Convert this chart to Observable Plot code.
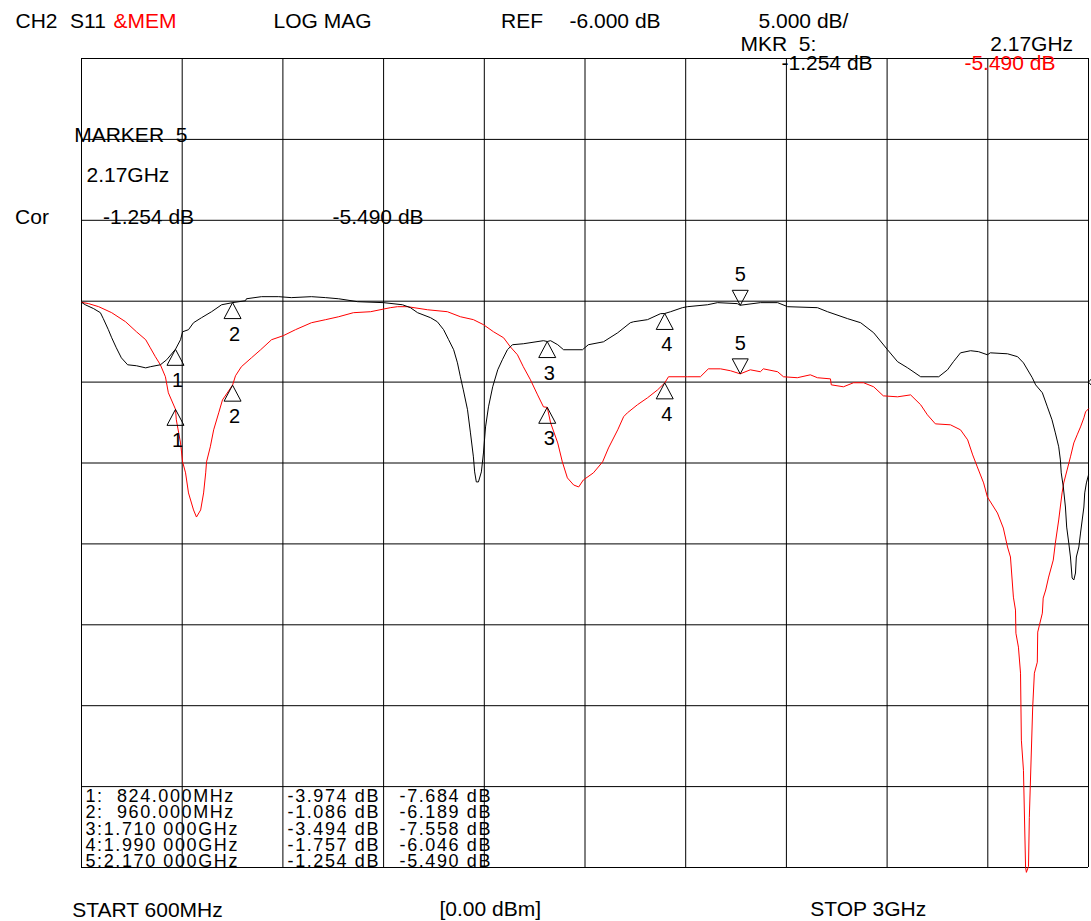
<!DOCTYPE html>
<html>
<head>
<meta charset="utf-8">
<style>
  body { margin: 0; background: #fff; }
</style>
<script src="https://cdn.jsdelivr.net/npm/d3@7"></script>
<script src="https://cdn.jsdelivr.net/npm/@observablehq/plot@0.6"></script>
</head>
<body>
<div id="chart"></div>
<script>
// ---------- DATA ----------
const startMHz = 600;
const stopMHz = 3000;
const refLevelDb = -6;

// vertical graticule (MHz) and horizontal graticule (dB)
const xGridMHz = [600, 840, 1080, 1320, 1560, 1800, 2040, 2280, 2520, 2760, 3000];
const yGridDb = [14, 9, 4, -1, -6, -11, -16, -21, -26, -31, -36];

// S11 current trace (black)
const s11FreqMHz = [600,609,629,645,652,664,672,683,695,710,731,753,764,788,803,824,836,841,855,867,886,910,934,960,991,993,1029,1070,1100,1148,1182,1213,1258,1320,1365,1384,1401,1432,1448,1463,1475,1487,1496,1503,1510,1520,1527,1534,1537,1541,1546,1553,1558,1563,1570,1580,1592,1603,1615,1627,1653,1701,1710,1718,1735,1749,1794,1808,1844,1878,1908,1916,1949,1980,1990,2004,2032,2044,2092,2116,2163,2170,2218,2259,2283,2354,2378,2426,2457,2488,2521,2545,2569,2600,2643,2664,2678,2695,2719,2738,2759,2766,2807,2831,2845,2866,2874,2890,2902,2913,2921,2929,2933,2935,2940,2945,2948,2953,2957,2961,2965,2969,2971,2977,2981,2989,2991,2995,3000];
const s11Db = [-1.07,-1.22,-1.46,-1.71,-2.08,-2.76,-3.26,-3.88,-4.50,-4.93,-4.99,-5.12,-5.05,-4.93,-4.62,-3.97,-3.38,-2.89,-2.76,-2.33,-2.02,-1.65,-1.22,-1.09,-0.97,-0.85,-0.72,-0.72,-0.78,-0.72,-0.78,-0.85,-1.03,-1.09,-1.22,-1.40,-1.71,-2.02,-2.27,-2.76,-3.38,-4.00,-4.81,-5.67,-6.48,-7.71,-9.14,-10.62,-11.55,-12.17,-12.17,-11.55,-10.38,-8.77,-7.53,-6.29,-5.24,-4.62,-4.00,-3.69,-3.63,-3.44,-3.49,-3.44,-3.69,-4.00,-4.00,-3.69,-3.51,-2.95,-2.33,-2.27,-2.14,-1.77,-1.76,-1.65,-1.40,-1.34,-1.22,-1.09,-1.15,-1.25,-1.09,-1.09,-1.34,-1.40,-1.65,-2.08,-2.33,-2.95,-4.00,-4.74,-5.12,-5.67,-5.67,-5.24,-4.74,-4.19,-4.06,-4.12,-4.31,-4.19,-4.25,-4.43,-4.81,-5.73,-6.17,-6.66,-7.53,-8.33,-9.14,-10.00,-10.81,-11.61,-12.48,-13.72,-14.96,-15.95,-16.81,-18.11,-18.23,-17.80,-16.81,-16.19,-15.33,-13.72,-12.85,-12.23,-11.74];

// Memory trace (red)
const memFreqMHz = [600,617,641,672,705,731,753,764,776,788,800,807,824,826,836,841,848,855,867,874,884,891,896,898,907,915,927,936,960,967,981,1005,1027,1053,1081,1110,1148,1182,1213,1248,1289,1336,1353,1377,1425,1472,1503,1534,1558,1582,1606,1622,1639,1653,1670,1687,1701,1710,1718,1735,1746,1758,1773,1785,1796,1820,1842,1856,1878,1892,1901,1925,1949,1973,1990,1999,2044,2075,2094,2123,2147,2170,2194,2218,2225,2259,2273,2306,2337,2354,2385,2387,2416,2440,2464,2488,2511,2545,2576,2600,2616,2635,2671,2695,2712,2724,2735,2750,2759,2783,2797,2807,2814,2821,2826,2827,2833,2838,2840,2845,2850,2852,2857,2859,2867,2871,2878,2879,2890,2892,2898,2905,2916,2921,2929,2937,2941,2949,2957,2965,2973,2981,2989,2993,3000];
const memDb = [-1.07,-1.15,-1.34,-1.71,-2.27,-2.89,-3.38,-3.88,-4.43,-4.93,-5.67,-6.66,-7.68,-8.33,-9.76,-10.93,-11.61,-12.85,-13.90,-14.34,-13.90,-12.85,-11.61,-10.93,-10.00,-8.95,-7.90,-7.10,-6.19,-5.61,-5.05,-4.50,-4.00,-3.38,-3.13,-2.76,-2.33,-2.14,-1.96,-1.71,-1.65,-1.40,-1.34,-1.34,-1.53,-1.65,-1.96,-2.14,-2.45,-2.89,-3.26,-3.82,-4.31,-5.05,-5.86,-6.79,-7.53,-7.56,-8.52,-9.76,-10.93,-11.92,-12.36,-12.48,-12.05,-11.61,-10.93,-10.07,-8.95,-8.14,-7.90,-7.40,-6.97,-6.48,-6.05,-5.67,-5.67,-5.67,-5.18,-5.18,-5.30,-5.49,-5.24,-5.36,-5.18,-5.36,-5.67,-5.73,-5.55,-5.73,-5.80,-6.17,-6.29,-6.04,-6.04,-6.29,-6.85,-6.91,-6.79,-7.40,-8.02,-8.58,-8.64,-8.95,-9.57,-10.50,-11.24,-12.23,-13.10,-14.09,-15.02,-16.19,-16.81,-19.29,-20.09,-21.52,-22.38,-23.99,-28.13,-29.99,-35.99,-36.30,-35.93,-32.90,-26.09,-23.99,-23.31,-21.45,-20.28,-19.35,-18.85,-18.05,-17.00,-15.95,-14.52,-12.85,-12.23,-11.43,-10.62,-9.76,-9.26,-8.77,-8.21,-7.84,-7.65];

// Markers
const markerNumbers = [1, 2, 3, 4, 5];
const markerFreqMHz = [824, 960, 1710, 1990, 2170];
const markerFreqLabels = ["824.000MHz", "960.000MHz", "1.710 000GHz", "1.990 000GHz", "2.170 000GHz"];
const markerS11Db = [-3.974, -1.086, -3.494, -1.757, -1.254];
const markerMemDb = [-7.684, -6.189, -7.558, -6.046, -5.490];
const activeMarker = 5;
const activeMarkerShort = "2.17GHz";

// ---------- BUILD ----------
const RED = "#ff0000";
const BLACK = "#000000";
const TABLE_FONT = "Liberation Sans, Arial";
const s11 = s11FreqMHz.map((f, i) => ({f, v: s11Db[i]}));
const mem = memFreqMHz.map((f, i) => ({f, v: memDb[i]}));
const markers = markerNumbers.map((n, i) => ({n, f: markerFreqMHz[i], s: markerS11Db[i], m: markerMemDb[i]}));
const passive = markers.filter(d => d.n !== activeMarker);
const active = markers.filter(d => d.n === activeMarker);
const am = active[0];

const triUp = {draw(ctx) { ctx.moveTo(0, 0); ctx.lineTo(-8.5, 16); ctx.lineTo(8.5, 16); ctx.closePath(); }};
const triDown = {draw(ctx) { ctx.moveTo(0, 0); ctx.lineTo(-8, -15); ctx.lineTo(8, -15); ctx.closePath(); }};
const refSym = {draw(ctx) { ctx.moveTo(4.5, -5); ctx.lineTo(0, 0); ctx.lineTo(4.5, 5); }};

const fmtDb = v => `${v.toFixed(3)} dB`;
const nb = "\u00a0";

const T = (s, dx, dy, o = {}) => Plot.text([s], {
  text: d => d, frameAnchor: "top-left", textAnchor: "start", lineAnchor: "bottom",
  dx, dy, fontSize: 21, fill: BLACK, ...o
});

const col1 = markers.map((d, i) => `${d.n}:` + (markerFreqLabels[i].startsWith("1.") || markerFreqLabels[i].startsWith("2.") ? "" : nb + nb) + markerFreqLabels[i]);
const col2 = markers.map(d => fmtDb(d.s));
const col3 = markers.map(d => fmtDb(d.m));
const tableOpts = {fontSize: 18, lineHeight: 0.903, fontFamily: TABLE_FONT};

const chart = Plot.plot({
  width: 1091,
  height: 921,
  marginLeft: 81,
  marginRight: 3,
  marginTop: 58,
  marginBottom: 54,
  x: {domain: [startMHz, stopMHz], axis: null},
  y: {domain: [-36, 14], axis: null},
  style: {fontFamily: '"Liberation Sans", Arial, sans-serif', fontSize: "21px", background: "#fff", color: "#000", overflow: "visible"},
  marks: [
    Plot.ruleX(xGridMHz, {stroke: BLACK, strokeWidth: 1}),
    Plot.ruleY(yGridDb, {stroke: BLACK, strokeWidth: 1}),
    Plot.line(mem, {x: "f", y: "v", stroke: RED, strokeWidth: 1}),
    Plot.line(s11, {x: "f", y: "v", stroke: BLACK, strokeWidth: 1}),
    // reference level indicator
    Plot.dot([{f: stopMHz, v: refLevelDb}], {x: "f", y: "v", symbol: refSym, r: 5, stroke: BLACK, fill: "none", strokeWidth: 1}),
    // markers on both traces
    Plot.dot(passive, {x: "f", y: "s", symbol: triUp, r: 6, stroke: BLACK, fill: "none", strokeWidth: 1}),
    Plot.dot(passive, {x: "f", y: "m", symbol: triUp, r: 6, stroke: BLACK, fill: "none", strokeWidth: 1}),
    Plot.dot(active, {x: "f", y: "s", symbol: triDown, r: 6, stroke: BLACK, fill: "none", strokeWidth: 1}),
    Plot.dot(active, {x: "f", y: "m", symbol: triDown, r: 6, stroke: BLACK, fill: "none", strokeWidth: 1}),
    Plot.text(passive, {x: "f", y: "s", text: d => String(d.n), dx: 2, dy: 38, lineAnchor: "bottom", fontSize: 20, fill: BLACK}),
    Plot.text(passive, {x: "f", y: "m", text: d => String(d.n), dx: 2, dy: 38, lineAnchor: "bottom", fontSize: 20, fill: BLACK}),
    Plot.text(active, {x: "f", y: "s", text: d => String(d.n), dx: 0, dy: -24, lineAnchor: "bottom", fontSize: 20, fill: BLACK}),
    Plot.text(active, {x: "f", y: "m", text: d => String(d.n), dx: 0, dy: -24, lineAnchor: "bottom", fontSize: 20, fill: BLACK}),
    // header
    T("CH2", -66, -31),
    T("S11", -11.5, -31),
    T("&MEM", 32, -31, {fill: RED}),
    T("LOG MAG", 192, -31),
    T("REF", 419.5, -31),
    T(`${refLevelDb.toFixed(3)} dB`, 488, -31),
    T("5.000 dB/", 677, -31),
    T(`MKR${nb}${nb}${activeMarker}:`, 659, -8),
    T(activeMarkerShort, 991.6, -8, {textAnchor: "end"}),
    T(fmtDb(am.s), 700, 11),
    T(fmtDb(am.m), 974, 11, {textAnchor: "end", fill: RED}),
    // marker readout inside grid
    T(`MARKER${nb}${nb}${activeMarker}`, -7.3, 83.7),
    T(activeMarkerShort, 5, 123.7),
    T("Cor", -66.4, 165),
    T(fmtDb(am.s), 21.5, 165),
    T(fmtDb(am.m), 251, 165),
    // marker table
    T(col1.join("\n"), 4, 808.7, tableOpts),
    T(col2.join("\n"), 298.5, 808.7, {...tableOpts, textAnchor: "end"}),
    T(col3.join("\n"), 410.5, 808.7, {...tableOpts, textAnchor: "end"}),
    // footer
    T("START 600MHz", -9.3, 858),
    T("[0.00 dBm]", 358, 857),
    T("STOP 3GHz", 728.7, 857)
  ]
});
d3.select(chart).selectAll(`g[font-family="${TABLE_FONT}"]`).attr("letter-spacing", "1.6px");
document.getElementById("chart").appendChild(chart);
</script>
</body>
</html>
